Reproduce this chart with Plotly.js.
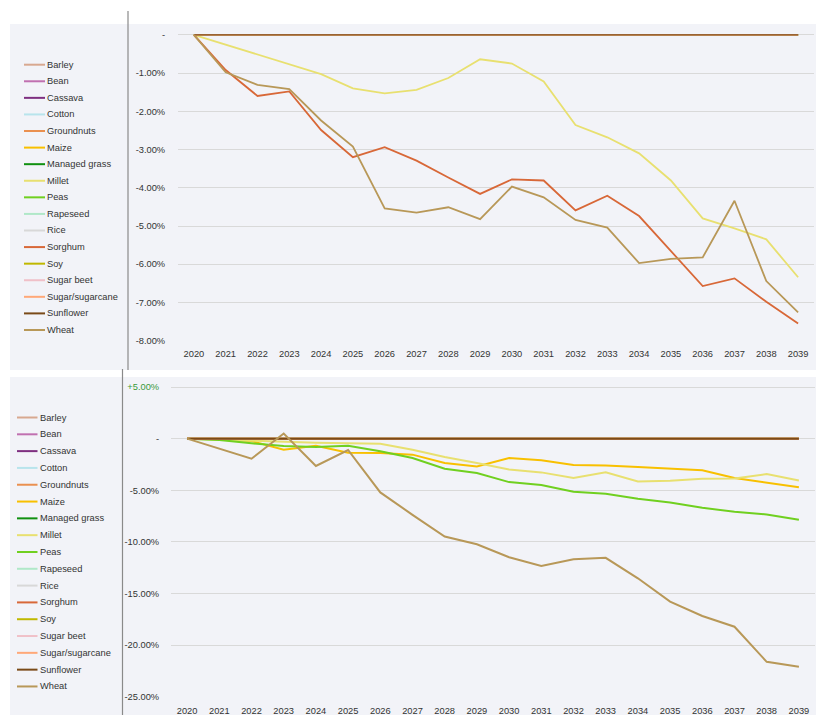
<!DOCTYPE html>
<html>
<head>
<meta charset="utf-8">
<script src="https://cdn.plot.ly/plotly-3.0.1.min.js"></script>
<style>
html,body{margin:0;padding:0;background:#fff;}
#chart{width:816px;height:715px;}
</style>
</head>
<body>
<div id="chart"></div>
<script>
// ---------- data ----------
const years = [2020,2021,2022,2023,2024,2025,2026,2027,2028,2029,2030,2031,2032,2033,2034,2035,2036,2037,2038,2039];
const crops = ['Barley','Bean','Cassava','Cotton','Groundnuts','Maize','Managed grass','Millet','Peas','Rapeseed','Rice','Sorghum','Soy','Sugar beet','Sugar/sugarcane','Sunflower','Wheat'];
const cropColors = ['#d8a890','#c070b0','#7e2f80','#b8e4ec','#ea9050','#f8c000','#109010','#e8e070','#70d020','#b0e8c8','#d8d8d8','#d86838','#c0b800','#f0c0c8','#ffa878','#7a4a18','#b89858'];

// flat (unchanged) series: 0% every year
const flat = [0,0,0,0,0,0,0,0,0,0,0,0,0,0,0,0,0,0,0,0];

// top chart (% change)
const topMillet  = [0,-0.26,-0.52,-0.77,-1.03,-1.40,-1.53,-1.44,-1.13,-0.64,-0.75,-1.22,-2.36,-2.68,-3.10,-3.81,-4.80,-5.06,-5.35,-6.34];
const topSorghum = [0,-0.92,-1.60,-1.48,-2.49,-3.20,-2.94,-3.29,-3.73,-4.16,-3.78,-3.81,-4.59,-4.21,-4.74,-5.65,-6.57,-6.37,-6.98,-7.55];
const topWheat   = [0,-0.98,-1.31,-1.42,-2.24,-2.92,-4.54,-4.65,-4.51,-4.82,-3.97,-4.25,-4.84,-5.04,-5.97,-5.86,-5.82,-4.34,-6.44,-7.26];

// bottom chart (% change)
const botMaize  = [0,-0.06,-0.23,-1.07,-0.68,-1.36,-1.39,-1.55,-2.36,-2.69,-1.88,-2.10,-2.56,-2.59,-2.75,-2.94,-3.07,-3.82,-4.30,-4.72];
const botMillet = [0,-0.10,-0.23,-0.32,-0.39,-0.45,-0.50,-1.07,-1.78,-2.36,-2.98,-3.27,-3.82,-3.27,-4.14,-4.08,-3.88,-3.85,-3.43,-4.05];
const botPeas   = [0,-0.13,-0.45,-0.71,-0.81,-0.68,-1.23,-1.88,-2.91,-3.33,-4.21,-4.50,-5.15,-5.34,-5.83,-6.18,-6.70,-7.09,-7.35,-7.86];
const botWheat  = [0,-0.97,-1.94,0.49,-2.65,-1.10,-5.21,-7.38,-9.48,-10.23,-11.49,-12.33,-11.68,-11.55,-13.53,-15.79,-17.18,-18.22,-21.62,-22.10];

const topTickVals = [0,-1,-2,-3,-4,-5,-6,-7,-8];
const topTickText = ['-','-1.00%','-2.00%','-3.00%','-4.00%','-5.00%','-6.00%','-7.00%','-8.00%'];
const botTickVals = [5,0,-5,-10,-15,-20,-25];
const botTickText = ['<span style="color:#3a9a3a">+5.00%</span>','-','-5.00%','-10.00%','-15.00%','-20.00%','-25.00%'];

const topSeries = {Millet: topMillet, Sorghum: topSorghum, Wheat: topWheat};
const botSeries = {Maize: botMaize, Millet: botMillet, Peas: botPeas, Wheat: botWheat};

// ---------- build ----------
const W = 816, H = 715;
const px = v => v / W;
const py = v => 1 - v / H;
const FONT = 'Arial, "Liberation Sans", sans-serif';

const traces = [];
crops.forEach((c, i) => {
  traces.push({x: years, y: topSeries[c] || flat, type: 'scatter', mode: 'lines', name: c,
    line: {color: cropColors[i], width: topSeries[c] ? 1.8 : 1.3}, xaxis: 'x', yaxis: 'y', showlegend: false, hoverinfo: 'skip'});
});
crops.forEach((c, i) => {
  traces.push({x: years, y: botSeries[c] || flat, type: 'scatter', mode: 'lines', name: c,
    line: {color: cropColors[i], width: 2}, xaxis: 'x2', yaxis: 'y2', showlegend: false, hoverinfo: 'skip'});
});

const shapes = [
  {type: 'rect', xref: 'paper', yref: 'paper', x0: px(10), x1: 1, y0: py(370), y1: py(24), fillcolor: '#f2f3f8', line: {width: 0}, layer: 'below'},
  {type: 'rect', xref: 'paper', yref: 'paper', x0: px(10), x1: 1, y0: 0, y1: py(377), fillcolor: '#f2f3f8', line: {width: 0}, layer: 'below'},
  {type: 'line', xref: 'paper', yref: 'paper', x0: px(128), x1: px(128), y0: py(11), y1: py(370), line: {color: '#8a8a8a', width: 1.2}},
  {type: 'line', xref: 'paper', yref: 'paper', x0: px(122.5), x1: px(122.5), y0: py(369), y1: 0, line: {color: '#8a8a8a', width: 1.2}}
];
const annotations = [];
// legends built from crops / colours
const legends = [
  {y0: 64.7, dy: 16.58, lx0: 24, lx1: 45, tx: 46},
  {y0: 417.5, dy: 16.81, lx0: 17, lx1: 37.5, tx: 39}
];
legends.forEach(L => {
  crops.forEach((c, i) => {
    const yc = L.y0 + i * L.dy;
    shapes.push({type: 'line', xref: 'paper', yref: 'paper', x0: px(L.lx0), x1: px(L.lx1), y0: py(yc), y1: py(yc),
      line: {color: cropColors[i], width: 2}});
    annotations.push({xref: 'paper', yref: 'paper', x: px(L.tx), y: py(yc), xanchor: 'left', yanchor: 'middle',
      text: c, showarrow: false, font: {family: FONT, size: 9.3, color: '#333333'}, borderpad: 0});
  });
});

const axisFont = {family: FONT, size: 9.3, color: '#333333'};
const layout = {
  width: W, height: H,
  margin: {l: 0, r: 0, t: 0, b: 0},
  paper_bgcolor: '#ffffff', plot_bgcolor: 'rgba(0,0,0,0)',
  showlegend: false,
  font: {family: FONT},
  xaxis: {domain: [px(178), px(814)], range: [2019.5, 2039.5], tickvals: years, ticktext: years.map(String),
    showgrid: false, zeroline: false, showline: false, ticks: 'outside', ticklen: 4, tickcolor: 'rgba(0,0,0,0)',
    tickfont: axisFont, anchor: 'y', fixedrange: true},
  yaxis: {domain: [py(340.7), py(31)], range: [-8, 0.1], tickvals: topTickVals, ticktext: topTickText,
    showgrid: true, gridcolor: '#d9d9d9', gridwidth: 1, zeroline: false, showline: false,
    ticks: 'outside', ticklen: 10, tickcolor: 'rgba(0,0,0,0)', tickfont: axisFont, anchor: 'x', fixedrange: true},
  xaxis2: {domain: [px(171), px(815)], range: [2019.5, 2039.5], tickvals: years, ticktext: years.map(String),
    showgrid: false, zeroline: false, showline: false, ticks: 'outside', ticklen: 5, tickcolor: 'rgba(0,0,0,0)',
    tickfont: axisFont, anchor: 'y2', fixedrange: true},
  yaxis2: {domain: [py(696.7), py(382.9)], range: [-25, 5.4], tickvals: botTickVals, ticktext: botTickText,
    showgrid: true, gridcolor: '#d9d9d9', gridwidth: 1, zeroline: false, showline: false,
    ticks: 'outside', ticklen: 9, tickcolor: 'rgba(0,0,0,0)', tickfont: axisFont, anchor: 'x2', fixedrange: true},
  shapes: shapes,
  annotations: annotations
};

Plotly.newPlot('chart', traces, layout, {staticPlot: true, displayModeBar: false});
</script>
</body>
</html>
